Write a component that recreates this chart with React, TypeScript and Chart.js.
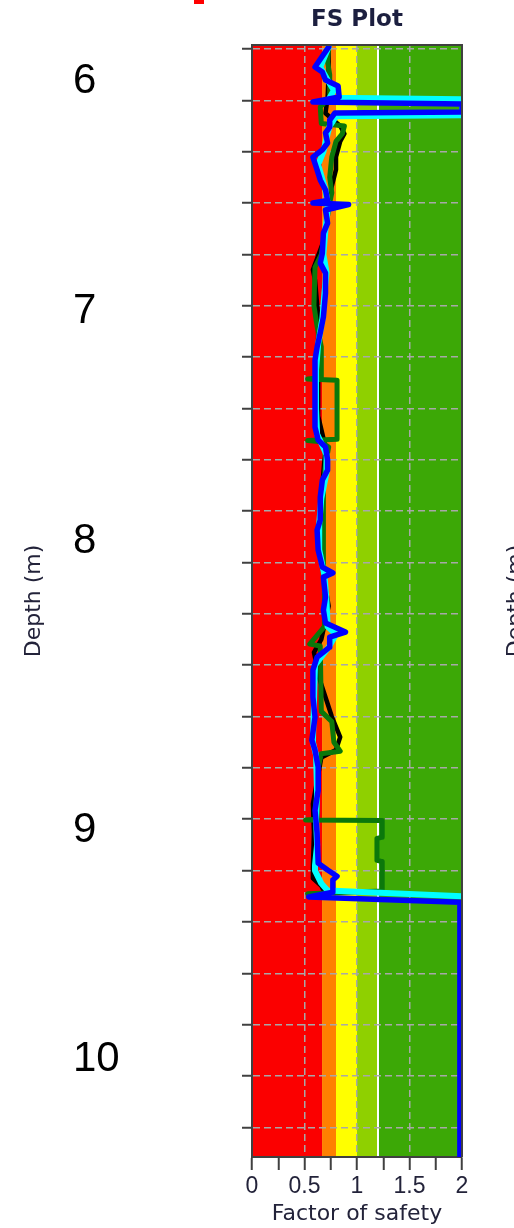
import React, { useEffect, useRef } from 'react';
import { Chart, registerables } from 'chart.js';

Chart.register(...registerables);

// ---------------- data ----------------
// Factor-of-safety colour bands (FS edges) and their colours
const bandEdges = [0, 0.667, 0.8, 1.0, 1.2, 2.0];
const bandColors = ['#fb0000', '#ff8000', '#ffff00', '#8fd000', '#3ca806'];
const whiteLineFS = 1.2;

// axis ranges
const fsMin = 0;
const fsMax = 2;
const fsStep = 0.25;
const fsLabelStep = 0.5;
const depthMin = 5.9844;
const depthMax = 10.3157;
const depthStep = 0.2;

// overlaid depth labels
const depthLabels = ['6', '7', '8', '9', '10'];

// series: blue
const blueDepth = [5.992, 6.07, 6.09, 6.121, 6.144, 6.187, 6.206, 6.214, 6.245, 6.249, 6.277, 6.304, 6.327, 6.366, 6.393, 6.421, 6.471, 6.51, 6.549, 6.59, 6.6, 6.606, 6.627, 6.678, 6.717, 6.795, 6.834, 6.873, 6.951, 7.044, 7.106, 7.161, 7.212, 7.289, 7.395, 7.473, 7.523, 7.55, 7.601, 7.64, 7.679, 7.745, 7.835, 7.874, 7.952, 8.018, 8.041, 8.057, 8.135, 8.185, 8.236, 8.271, 8.291, 8.33, 8.369, 8.419, 8.524, 8.602, 8.692, 8.731, 8.797, 8.887, 8.965, 9.054, 9.171, 9.198, 9.222, 9.237, 9.284, 9.303, 9.323, 10.32];
const blueFS = [0.73, 0.60, 0.67, 0.70, 0.82, 0.83, 0.58, 2.0, 2.0, 0.79, 0.74, 0.74, 0.70, 0.72, 0.67, 0.58, 0.62, 0.65, 0.70, 0.72, 0.58, 0.92, 0.70, 0.72, 0.68, 0.67, 0.65, 0.70, 0.70, 0.68, 0.65, 0.62, 0.60, 0.60, 0.60, 0.60, 0.63, 0.70, 0.72, 0.72, 0.67, 0.65, 0.65, 0.62, 0.63, 0.67, 0.77, 0.68, 0.70, 0.68, 0.70, 0.89, 0.74, 0.74, 0.62, 0.58, 0.58, 0.60, 0.57, 0.60, 0.63, 0.63, 0.60, 0.62, 0.63, 0.72, 0.81, 0.77, 0.77, 0.54, 1.98, 1.98];

// series: cyan
const cyanDepth = [5.992, 6.07, 6.121, 6.16, 6.19, 6.196, 6.258, 6.262, 6.30, 6.33, 6.40, 6.45, 6.55, 6.60, 6.63, 6.70, 6.80, 6.87, 6.95, 7.05, 7.15, 7.25, 7.40, 7.50, 7.58, 7.65, 7.75, 7.85, 7.95, 8.05, 8.15, 8.25, 8.28, 8.33, 8.40, 8.55, 8.70, 8.75, 8.90, 9.00, 9.10, 9.18, 9.20, 9.25, 9.278, 9.30];
const cyanFS = [0.73, 0.65, 0.72, 0.78, 0.74, 2.0, 2.0, 0.80, 0.74, 0.72, 0.68, 0.63, 0.70, 0.72, 0.72, 0.70, 0.68, 0.71, 0.69, 0.67, 0.63, 0.61, 0.61, 0.62, 0.71, 0.71, 0.66, 0.64, 0.64, 0.69, 0.71, 0.72, 0.80, 0.73, 0.60, 0.59, 0.58, 0.61, 0.62, 0.61, 0.62, 0.60, 0.60, 0.66, 0.72, 2.0];

// series: dark green
const greenDepth = [5.992, 6.05, 6.10, 6.19, 6.226, 6.29, 6.30, 6.33, 6.36, 6.42, 6.50, 6.56, 6.60, 6.65, 6.70, 6.80, 6.85, 7.00, 7.08, 7.16, 7.28, 7.285, 7.29, 7.52, 7.525, 7.53, 7.55, 7.62, 7.70, 7.85, 8.00, 8.10, 8.25, 8.318, 8.325, 8.58, 8.62, 8.70, 8.735, 8.745, 8.80, 8.90, 9.00, 9.003, 9.005, 9.07, 9.075, 9.16, 9.165, 9.28, 9.29];
const greenFS = [0.73, 0.72, 0.74, 0.74, 0.65, 0.66, 0.88, 0.86, 0.80, 0.76, 0.74, 0.76, 0.74, 0.72, 0.70, 0.66, 0.60, 0.59, 0.62, 0.66, 0.66, 0.53, 0.81, 0.81, 0.53, 0.66, 0.73, 0.70, 0.68, 0.68, 0.68, 0.69, 0.69, 0.55, 0.65, 0.66, 0.76, 0.78, 0.84, 0.66, 0.63, 0.62, 0.62, 0.51, 1.24, 1.24, 1.19, 1.19, 1.24, 1.24, 0.53];

// series: black
const blackDepth = [5.992, 6.10, 6.19, 6.25, 6.30, 6.33, 6.36, 6.42, 6.47, 6.55, 6.65, 6.75, 6.86, 6.90, 7.04, 7.20, 7.43, 7.55, 7.70, 7.90, 8.05, 8.17, 8.30, 8.35, 8.45, 8.60, 8.68, 8.73, 8.76, 8.85, 8.94, 9.05, 9.19, 9.23, 9.26, 9.29];
const blackFS = [0.73, 0.73, 0.72, 0.70, 0.84, 0.88, 0.84, 0.80, 0.80, 0.75, 0.72, 0.68, 0.58, 0.60, 0.63, 0.63, 0.63, 0.70, 0.67, 0.65, 0.68, 0.73, 0.66, 0.59, 0.64, 0.76, 0.84, 0.80, 0.66, 0.62, 0.58, 0.59, 0.58, 0.58, 0.66, 0.70];

// ---------------- styling / layout ----------------
const textColor = '#23233a';
const frameColor = '#404040';
const gridColor = '#a8a8a8';
const labelTops = [58, 287.5, 517.5, 806.5, 1035.5];
const labelLeft = 73;

function toPoints(depth: number[], fs: number[]) {
  const n = Math.min(depth.length, fs.length);
  const pts: { x: number; y: number }[] = [];
  for (let i = 0; i < n; i++) pts.push({ x: fs[i], y: depth[i] });
  return pts;
}

const isMultiple = (v: number, step: number) =>
  Math.abs(v / step - Math.round(v / step)) < 1e-6;

const fsPlugin = {
  id: 'fsBands',
  beforeDraw(chart: any) {
    const { ctx, chartArea: a, scales } = chart;
    const x = scales.x;
    ctx.save();
    for (let i = 0; i < bandColors.length; i++) {
      const x0 = x.getPixelForValue(bandEdges[i]);
      const x1 = x.getPixelForValue(bandEdges[i + 1]);
      ctx.fillStyle = bandColors[i];
      ctx.fillRect(x0, a.top, x1 - x0, a.bottom - a.top);
    }
    const xw = x.getPixelForValue(whiteLineFS);
    ctx.strokeStyle = '#ffffff';
    ctx.lineWidth = 2;
    ctx.beginPath();
    ctx.moveTo(xw, a.top);
    ctx.lineTo(xw, a.bottom);
    ctx.stroke();
    ctx.restore();
  },
  afterDraw(chart: any) {
    const { ctx, chartArea: a } = chart;
    ctx.save();
    ctx.strokeStyle = frameColor;
    ctx.lineWidth = 2;
    ctx.beginPath();
    ctx.moveTo(a.left, a.top);
    ctx.lineTo(a.right, a.top);
    ctx.lineTo(a.right, a.bottom);
    ctx.stroke();
    // axis title of the neighbouring plot, cut by the page edge
    ctx.translate(a.right + 54, (a.top + a.bottom) / 2);
    ctx.rotate(-Math.PI / 2);
    ctx.font = '22px "DejaVu Sans"';
    ctx.fillStyle = textColor;
    ctx.textAlign = 'center';
    ctx.textBaseline = 'middle';
    ctx.fillText('Depth (m)', 0, 0);
    ctx.restore();
  },
};

export default function App() {
  const canvasRef = useRef<HTMLCanvasElement | null>(null);

  useEffect(() => {
    if (!canvasRef.current) return;
    const series = [
      { label: 'Blue', pts: toPoints(blueDepth, blueFS), color: '#0000ff', width: 5.5 },
      { label: 'Cyan', pts: toPoints(cyanDepth, cyanFS), color: '#00ffff', width: 6 },
      { label: 'Green', pts: toPoints(greenDepth, greenFS), color: '#0b780b', width: 5 },
      { label: 'Black', pts: toPoints(blackDepth, blackFS), color: '#000000', width: 4.5 },
    ];
    const chart = new Chart(canvasRef.current, {
      type: 'scatter',
      data: {
        datasets: series.map((s) => ({
          label: s.label,
          data: s.pts,
          showLine: true,
          borderColor: s.color,
          backgroundColor: s.color,
          borderWidth: s.width,
          pointRadius: 0,
          pointHoverRadius: 0,
          tension: 0,
          borderJoinStyle: 'round' as const,
          borderCapStyle: 'round' as const,
        })),
      },
      options: {
        animation: false,
        responsive: false,
        maintainAspectRatio: false,
        devicePixelRatio: 1,
        events: [],
        layout: { padding: { left: 0, right: 52, top: 45, bottom: 0 } },
        plugins: {
          legend: { display: false },
          tooltip: { enabled: false },
          title: { display: false },
        },
        scales: {
          x: {
            type: 'linear',
            position: 'bottom',
            min: fsMin,
            max: fsMax,
            afterFit: (s: any) => {
              s.height = 71;
            },
            ticks: {
              stepSize: fsStep,
              autoSkip: false,
              maxRotation: 0,
              minRotation: 0,
              padding: 3,
              color: textColor,
              font: { family: '"Liberation Sans"', size: 23, lineHeight: 1.2 },
              callback: (v: any) => (isMultiple(Number(v), fsLabelStep) ? String(Number(v)) : ''),
            },
            grid: {
              color: (c: any) => {
                const v = c.tick ? c.tick.value : 0;
                return isMultiple(v, fsLabelStep) && v > fsMin && v < fsMax ? gridColor : 'rgba(0,0,0,0)';
              },
              lineWidth: 1.5,
              drawTicks: true,
              tickLength: 13,
              tickColor: frameColor,
              tickWidth: 2,
              tickBorderDash: [],
            },
            border: { display: true, color: frameColor, width: 2, dash: [7, 4] },
            title: {
              display: true,
              text: 'Factor of safety',
              color: textColor,
              font: { family: '"DejaVu Sans"', size: 22, lineHeight: 1.2 },
              padding: { top: 0, bottom: 1 },
            },
          },
          y: {
            type: 'linear',
            position: 'left',
            reverse: true,
            min: depthMin,
            max: depthMax,
            afterFit: (s: any) => {
              s.width = 252;
            },
            ticks: {
              stepSize: depthStep,
              includeBounds: false,
              display: false,
              autoSkip: false,
            },
            grid: {
              color: gridColor,
              lineWidth: 1.5,
              drawTicks: true,
              tickLength: 10,
              tickColor: frameColor,
              tickWidth: 2,
              tickBorderDash: [],
            },
            border: { display: true, color: frameColor, width: 2, dash: [7, 4] },
            title: {
              display: true,
              text: 'Depth (m)',
              color: textColor,
              font: { family: '"DejaVu Sans"', size: 22, lineHeight: 1.2 },
              padding: { top: 21, bottom: 0 },
            },
          },
        },
      },
      plugins: [fsPlugin],
    } as any);
    return () => chart.destroy();
  }, []);

  return (
    <div
      style={{
        position: 'absolute',
        left: 0,
        top: 0,
        width: 514,
        height: 1228,
        overflow: 'hidden',
        background: '#ffffff',
      }}
    >
      <canvas
        ref={canvasRef}
        width={514}
        height={1228}
        style={{ position: 'absolute', left: 0, top: 0, width: 514, height: 1228 }}
      />
      <div
        style={{
          position: 'absolute',
          left: 194,
          top: 0,
          width: 10,
          height: 4,
          background: '#ff0000',
        }}
      />
      <div
        style={{
          position: 'absolute',
          left: 257,
          top: 7,
          width: 200,
          textAlign: 'center',
          fontFamily: '"DejaVu Sans"',
          fontWeight: 'bold',
          fontSize: 23,
          lineHeight: '23px',
          color: '#1c1f3f',
          whiteSpace: 'nowrap',
        }}
      >
        FS Plot
      </div>
      {depthLabels.map((t, i) => (
        <div
          key={t}
          style={{
            position: 'absolute',
            left: labelLeft,
            top: labelTops[i],
            fontFamily: '"Liberation Sans"',
            fontSize: 42,
            lineHeight: '42px',
            color: '#000000',
            whiteSpace: 'nowrap',
          }}
        >
          {t}
        </div>
      ))}
    </div>
  );
}
